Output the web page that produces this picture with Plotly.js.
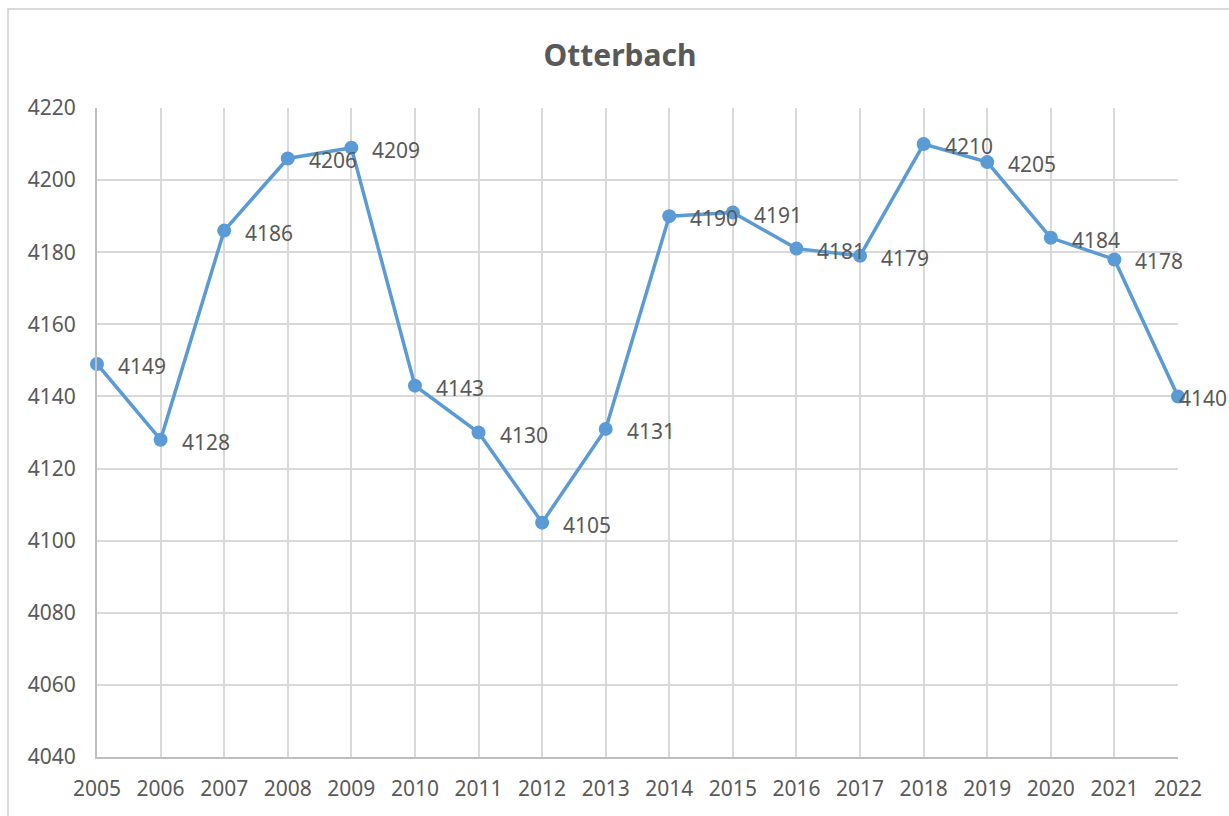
<!DOCTYPE html>
<html>
<head>
<meta charset="utf-8">
<script src="https://cdn.plot.ly/plotly-3.0.1.min.js"></script>
<style>html,body{margin:0;padding:0;background:#fff;}#chart{width:1229px;height:816px;}</style>
</head>
<body>
<div id="chart"></div>
<script>
const years = [2005,2006,2007,2008,2009,2010,2011,2012,2013,2014,2015,2016,2017,2018,2019,2020,2021,2022];
const population = [4149,4128,4186,4206,4209,4143,4130,4105,4131,4190,4191,4181,4179,4210,4205,4184,4178,4140];
const yTicks = [4040,4060,4080,4100,4120,4140,4160,4180,4200,4220];
const chartTitle = 'Otterbach';

const textColor = '#595959';
const fontFam = '"Noto Sans", "Open Sans", sans-serif';

const trace = {
  x: years,
  y: population,
  type: 'scatter',
  mode: 'lines+markers',
  line: {color: '#5B9BD5', width: 3.5},
  marker: {color: '#5B9BD5', size: 14},
  cliponaxis: false,
  hoverinfo: 'x+y'
};

const lastIdx = years.length - 1;
const labels = years.map((yr, i) => ({
  x: yr, y: population[i], xref: 'x', yref: 'y',
  text: String(population[i]), showarrow: false,
  xanchor: 'left', yanchor: 'middle', xshift: i === lastIdx ? -1 : 19, yshift: -2,
  font: {family: fontFam, size: 21, color: textColor}
}));

const pw = 1081, ph = 649;
const layout = {
  width: 1229, height: 816,
  margin: {l: 97, r: 51, t: 108, b: 59},
  paper_bgcolor: '#ffffff',
  plot_bgcolor: '#ffffff',
  showlegend: false,
  title: {text: '<b>' + chartTitle + '</b>', font: {family: fontFam, size: 30, color: textColor}, xref: 'container', x: 620/1229, xanchor: 'center', y: 1 - 55/816, yanchor: 'middle'},
  xaxis: {
    range: [2005, 2022],
    tickvals: years,
    ticktext: years.map(String),
    showgrid: true, gridcolor: '#d9d9d9', gridwidth: 2,
    zeroline: false,
    showline: true, linecolor: '#bfbfbf', linewidth: 2,
    ticks: '',
    ticklabelstandoff: 12,
    tickfont: {family: fontFam, size: 21, color: textColor},
    fixedrange: true
  },
  yaxis: {
    range: [4040, 4220],
    tickvals: yTicks,
    showgrid: true, gridcolor: '#d9d9d9', gridwidth: 2,
    zeroline: false,
    showline: true, linecolor: '#bfbfbf', linewidth: 2,
    ticks: '',
    ticklabelstandoff: 15,
    tickfont: {family: fontFam, size: 21, color: textColor},
    fixedrange: true
  },
  annotations: labels,
  shapes: [{
    type: 'rect', xref: 'paper', yref: 'paper',
    x0: (8-97)/pw, x1: (1260-97)/pw,
    y0: (757-840)/ph, y1: (757-9)/ph,
    line: {color: '#d9d9d9', width: 2}, fillcolor: 'rgba(0,0,0,0)', layer: 'below'
  }]
};

Plotly.newPlot('chart', [trace], layout, {displayModeBar: false, staticPlot: true});
</script>
</body>
</html>
